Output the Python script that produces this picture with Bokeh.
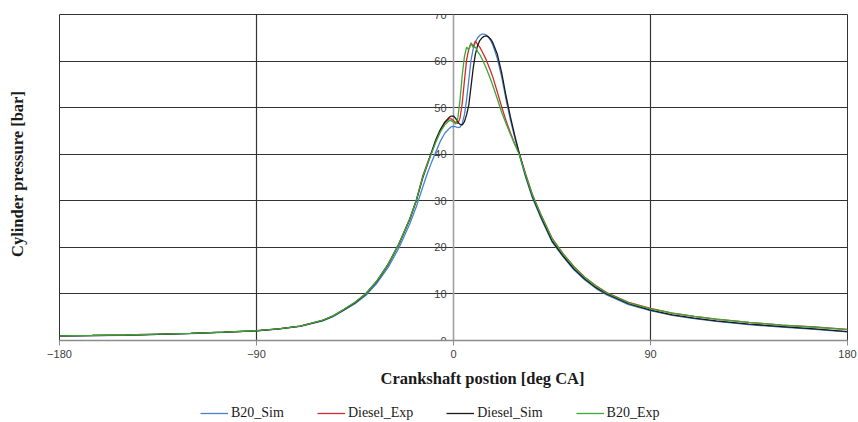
import math
from bokeh.plotting import figure
from bokeh.models import (ColumnDataSource, FixedTicker, Grid, Span, Legend,
                          LegendItem, Range1d)
from bokeh.layouts import row, column
from bokeh.core.properties import value
from bokeh.embed import file_html
from bokeh.resources import INLINE

# ---------------- data ----------------
crank_angle = [-180, -165, -150, -135, -120, -105, -90, -80, -70, -60, -55, -50,
               -45, -40, -35, -30, -25, -20, -17, -14, -12, -10, -8, -6, -4, -2,
               -1, 0, 1, 2, 3, 4, 5, 6, 7, 8, 9, 10, 11, 12, 13, 14, 15, 16, 17,
               18, 20, 22, 24, 26, 28, 30, 33, 36, 40, 45, 50, 55, 60, 65, 70,
               80, 90, 100, 110, 120, 135, 150, 165, 180]

b20_sim = [0.95, 1.03, 1.13, 1.3, 1.5, 1.75, 2.05, 2.45, 3.05, 4.15, 5.1, 6.5,
           7.9, 9.7, 12.3, 15.6, 19.8, 25.0, 28.7, 33.0, 35.8, 38.3, 40.6, 42.8,
           44.5, 45.5, 45.9, 46.0, 45.9, 45.7, 45.8, 46.6, 48.5, 51.8, 56.0,
           60.2, 62.6, 64.1, 65.0, 65.5, 65.8, 65.8, 65.6, 65.1, 64.4, 63.4,
           60.6, 56.6, 51.8, 47.4, 43.5, 40.0, 35.0, 30.7, 26.2, 21.2, 18.0,
           15.2, 13.0, 11.2, 9.8, 7.7, 6.4, 5.4, 4.7, 4.1, 3.4, 2.9, 2.4, 1.85]

diesel_exp = [1.0, 1.08, 1.18, 1.35, 1.55, 1.8, 2.1, 2.5, 3.1, 4.3, 5.3, 6.7,
              8.2, 10.1, 12.8, 16.3, 20.7, 26.1, 30.1, 35.4, 38.0, 40.4, 43.0,
              45.1, 46.7, 47.6, 47.6, 47.2, 46.8, 46.6, 47.8, 51.0, 55.8, 60.3,
              62.6, 63.9, 63.1, 64.3, 63.6, 63.0, 62.1, 61.2, 60.2, 59.0, 57.8,
              56.5, 53.4, 50.2, 47.2, 44.6, 42.2, 40.3, 35.7, 31.4, 27.0, 22.0,
              18.7, 15.9, 13.6, 11.8, 10.3, 8.2, 6.9, 5.9, 5.2, 4.6, 3.9, 3.3,
              2.9, 2.4]

diesel_sim = [1.0, 1.07, 1.17, 1.33, 1.53, 1.78, 2.08, 2.48, 3.08, 4.25, 5.25,
              6.6, 8.1, 10.0, 12.7, 16.2, 20.6, 26.0, 30.0, 35.0, 37.7, 40.5,
              43.2, 45.3, 46.9, 47.9, 48.2, 48.2, 47.7, 46.9, 46.4, 46.3, 47.0,
              48.5, 50.6, 54.5, 58.5, 61.5, 63.3, 64.4, 65.0, 65.3, 65.4, 65.2,
              64.7, 63.9, 61.5, 57.5, 52.5, 48.0, 44.0, 40.3, 35.3, 31.0, 26.5,
              21.4, 18.2, 15.4, 13.2, 11.4, 10.0, 7.9, 6.5, 5.5, 4.8, 4.2, 3.5,
              3.0, 2.5, 1.9]

b20_exp = [1.0, 1.08, 1.18, 1.35, 1.55, 1.8, 2.1, 2.5, 3.1, 4.3, 5.3, 6.7,
           8.2, 10.1, 12.8, 16.3, 20.7, 26.1, 30.1, 35.2, 37.8, 40.2, 42.7,
           44.8, 46.3, 47.2, 47.2, 46.9, 46.5, 47.8, 51.8, 57.0, 61.0, 63.0,
           62.4, 63.8, 62.9, 63.0, 62.1, 61.4, 60.5, 59.5, 58.4, 57.2, 56.0,
           54.7, 51.9, 49.0, 46.6, 44.3, 42.1, 40.0, 35.5, 31.3, 26.9, 21.9,
           18.6, 15.8, 13.5, 11.7, 10.2, 8.1, 6.8, 5.9, 5.2, 4.6, 3.9, 3.3,
           2.85, 2.35]

series_names = ["B20_Sim", "Diesel_Exp", "Diesel_Sim", "B20_Exp"]
series_values = [b20_sim, diesel_exp, diesel_sim, b20_exp]
series_colors = ["#4a7fd0", "#d42a2a", "#1a1a1a", "#3aa83a"]

x_ticks = [-180, -90, 0, 90, 180]
x_grid = [-90, 90]
y_ticks = [0, 10, 20, 30, 40, 50, 60, 70]
y_tick_labels = [str(v) for v in y_ticks]

x_title = "Crankshaft postion [deg CA]"
y_title = "Cylinder pressure [bar]"

TITLE_FONT = "Liberation Serif"
TICK_FONT = "Liberation Sans"


def blank(width, height, xr, yr):
    f = figure(width=width, height=height, x_range=xr, y_range=yr,
               output_backend="svg", toolbar_location=None,
               x_axis_location=None, y_axis_location=None,
               min_border=0, min_border_left=0, min_border_right=0,
               min_border_top=0, min_border_bottom=0)
    f.outline_line_color = None
    f.xgrid.visible = False
    f.ygrid.visible = False
    f.background_fill_color = "white"
    f.border_fill_color = "white"
    return f


# ---------------- main chart ----------------
p = figure(width=813, height=364, x_range=(-180, 180), y_range=(0, 70),
           output_backend="svg", toolbar_location=None, y_axis_location=None,
           min_border_left=14, min_border_right=11, min_border_top=14,
           min_border_bottom=24)
p.background_fill_color = "white"
p.border_fill_color = "white"
p.outline_line_color = "#333333"
p.outline_line_width = 1
p.xgrid.visible = False
p.ygrid.visible = False

grid_color = "#333333"
p.add_layout(Grid(dimension=1, ticker=FixedTicker(ticks=y_ticks),
                  grid_line_color=grid_color, grid_line_width=1.2))
p.add_layout(Grid(dimension=0, ticker=FixedTicker(ticks=x_grid),
                  grid_line_color=grid_color, grid_line_width=1.2))
p.add_layout(Span(location=0, dimension="height", line_color="#a0a0a0",
                  line_width=1.6, level="underlay"))

ax = p.xaxis[0]
ax.ticker = FixedTicker(ticks=x_ticks)
ax.axis_line_color = "#8c8c8c"
ax.axis_line_width = 1.3
ax.major_tick_line_color = "#8c8c8c"
ax.major_tick_in = 0
ax.major_tick_out = 5
ax.minor_tick_line_color = None
ax.major_label_standoff = 4
ax.major_label_text_font = TICK_FONT
ax.major_label_text_font_size = "11px"
ax.major_label_text_color = "#404040"

ysrc = ColumnDataSource(dict(x=[0] * len(y_ticks), y=y_ticks, t=y_tick_labels))
p.text(x="x", y="y", text="t", source=ysrc, x_offset=-7,
       text_align="right", text_baseline="middle",
       text_font=value(TICK_FONT), text_font_size="11px",
       text_color="#404040")

for name, vals, col in zip(series_names, series_values, series_colors):
    p.line(crank_angle, vals, line_color=col, line_width=1.3)

# ---------------- y title strip ----------------
left = blank(45, 364, Range1d(0, 45), Range1d(364, 0))
left.text(x=[17], y=[178], text=[y_title], angle=math.pi / 2,
          text_align="center", text_baseline="middle",
          text_font=value(TITLE_FONT), text_font_size="16.5px",
          text_font_style="bold", text_color="#1a1a1a")

# ---------------- x title + legend strip ----------------
bottom = blank(858, 58, Range1d(0, 858), Range1d(58, 0))
bottom.text(x=[482], y=[14], text=[x_title],
            text_align="center", text_baseline="middle",
            text_font=value(TITLE_FONT), text_font_size="16.5px",
            text_font_style="bold", text_color="#1a1a1a")
items = []
for name, col in zip(series_names, series_colors):
    # single-point line: draws nothing itself, only supplies the legend swatch
    r = bottom.line(x=[0], y=[0], line_color=col, line_width=1.3)
    items.append(LegendItem(label=name, renderers=[r]))
legend = Legend(items=items, location=(200, 1), orientation="horizontal",
                glyph_width=28, glyph_height=12, label_height=12,
                label_standoff=3, spacing=33, padding=0, margin=0,
                border_line_color=None, background_fill_alpha=0,
                label_text_font=TITLE_FONT, label_text_font_size="14px",
                label_text_color="#1a1a1a")
bottom.add_layout(legend)

layout = column(row(left, p), bottom)
open("out.html", "w").write(file_html(layout, INLINE))
